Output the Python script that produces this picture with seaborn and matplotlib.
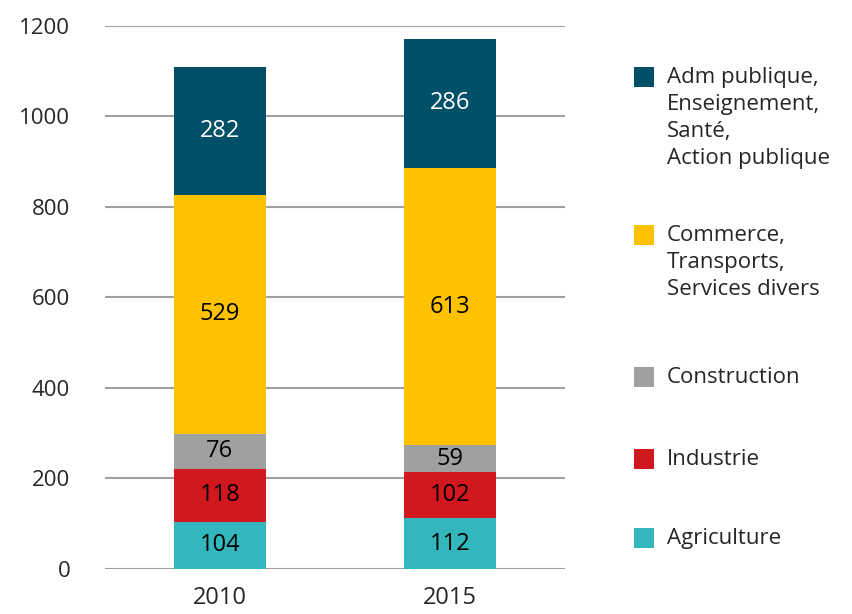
import numpy as np
import pandas as pd
import matplotlib
matplotlib.use("Agg")
import matplotlib.pyplot as plt
import seaborn as sns
from matplotlib.patches import Rectangle

# ==========================================
# DATA
# ==========================================

years = ["2010", "2015"]
agriculture = [104, 112]
industrie = [118, 102]
construction = [76, 59]
commerce = [529, 613]
adm_publique = [282, 286]

sectors = ["Agriculture", "Industrie", "Construction",
           "Commerce,\nTransports,\nServices divers",
           "Adm publique,\nEnseignement,\nSanté,\nAction publique"]
series = [agriculture, industrie, construction, commerce, adm_publique]
colors = ["#33B7BC", "#D0181E", "#A0A09F", "#FEC200", "#005068"]
label_colors = ["black", "black", "black", "black", "white"]

# ==========================================
# PLOT
# ==========================================

sns.set_style("white")
plt.rcParams["font.family"] = ["Open Sans", "DejaVu Sans"]

fig = plt.figure(figsize=(8.53, 6.14), dpi=100)
ax = fig.add_axes([0.123, 0.0733, 0.539, 0.8844])

bottom = np.zeros(len(years))
for vals, col, tcol in zip(series, colors, label_colors):
    df = pd.DataFrame({"Year": years, "Value": vals})
    sns.barplot(data=df, x="Year", y="Value", color=col, width=0.4,
                bottom=bottom, ax=ax, zorder=3, linewidth=0, saturation=1)
    for i, v in enumerate(vals):
        ax.text(i, bottom[i] + v / 2, str(v), ha="center", va="center",
                fontsize=17, color=tcol, zorder=4)
    bottom = bottom + np.array(vals)

ax.set_xlim(-0.5, 1.5)
ax.set_ylim(0, 1200)
ax.set_yticks(range(0, 1201, 200))
ax.yaxis.grid(True, color="#A0A0A0", linewidth=1.5, zorder=0)
ax.xaxis.grid(False)
ax.set_axisbelow(True)
for s in ax.spines.values():
    s.set_visible(False)
ax.tick_params(axis="y", length=0, pad=25, labelsize=16)
ax.tick_params(axis="x", length=0, pad=12, labelsize=17)
ax.set_xlabel("")
ax.set_ylabel("")

# legend drawn by hand, top entry first
W, H = 853, 614
legend_y = [67, 225, 367, 449, 528]  # top of each square in pixels
for lab, col, ytop in zip(sectors[::-1], colors[::-1], legend_y):
    fig.add_artist(Rectangle((634 / W, 1 - (ytop + 20) / H), 20 / W, 20 / H,
                             transform=fig.transFigure, color=col, lw=0))
    fig.text(667 / W, 1 - ytop / H, lab, ha="left", va="top",
             fontsize=16, linespacing=1.38)

plt.savefig("out.png", dpi=100)
